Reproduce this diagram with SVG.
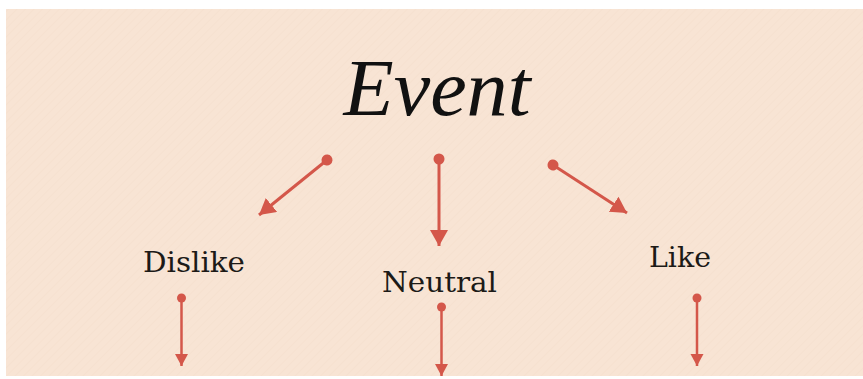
<svg xmlns="http://www.w3.org/2000/svg" width="863" height="379" viewBox="0 0 863 379">
  <style>
    .conn { stroke: #d4574a; fill: none; }
    .big { stroke-width: 3; }
    .small { stroke-width: 2.5; }
    .lbl { font-family: "DejaVu Serif", "Liberation Serif", serif; fill: #1c1a17; }
    .title { font-family: "Liberation Serif", "DejaVu Serif", serif; font-style: italic; fill: #111; }
  </style>
  <defs>
    <marker id="headBig" markerUnits="userSpaceOnUse" markerWidth="20" markerHeight="20" refX="16" refY="9" orient="auto">
      <path d="M0,0 L16,9 L0,18 z" fill="#d4574a"/>
    </marker>
    <marker id="headSmall" markerUnits="userSpaceOnUse" markerWidth="16" markerHeight="16" refX="12" refY="6.5" orient="auto">
      <path d="M0,0 L12,6.5 L0,13 z" fill="#d4574a"/>
    </marker>
    <marker id="dotBig" markerUnits="userSpaceOnUse" markerWidth="14" markerHeight="14" refX="7" refY="7" orient="auto">
      <circle cx="7" cy="7" r="5.5" fill="#d4574a"/>
    </marker>
    <marker id="dotSmall" markerUnits="userSpaceOnUse" markerWidth="12" markerHeight="12" refX="6" refY="6" orient="auto">
      <circle cx="6" cy="6" r="4.5" fill="#d4574a"/>
    </marker>
    <pattern id="tex" width="6" height="6" patternUnits="userSpaceOnUse" patternTransform="rotate(45)">
      <rect width="6" height="6" fill="#f8e4d4"/>
      <line x1="0" y1="0" x2="0" y2="6" stroke="#f5dfcd" stroke-width="1"/>
    </pattern>
  </defs>
  <rect x="0" y="0" width="863" height="379" fill="#ffffff"/>
  <rect x="6" y="9" width="857" height="367" fill="url(#tex)"/>

  <g id="event">
    <text class="title" x="437" y="115" font-size="80" text-anchor="middle" textLength="187" lengthAdjust="spacingAndGlyphs">Event</text>
  </g>
  <g id="dislike">
    <text class="lbl" x="194" y="272" font-size="28" text-anchor="middle" textLength="102" lengthAdjust="spacingAndGlyphs">Dislike</text>
  </g>
  <g id="neutral">
    <text class="lbl" x="439.5" y="292" font-size="28" text-anchor="middle" textLength="115" lengthAdjust="spacingAndGlyphs">Neutral</text>
  </g>
  <g id="like">
    <text class="lbl" x="680" y="267" font-size="28" text-anchor="middle" textLength="62" lengthAdjust="spacingAndGlyphs">Like</text>
  </g>

  <g id="connectors">
    <line class="conn big" x1="327" y1="160" x2="259" y2="215" marker-start="url(#dotBig)" marker-end="url(#headBig)"/>
    <line class="conn big" x1="439" y1="159" x2="439" y2="246" marker-start="url(#dotBig)" marker-end="url(#headBig)"/>
    <line class="conn big" x1="553" y1="165" x2="627" y2="213" marker-start="url(#dotBig)" marker-end="url(#headBig)"/>
    <line class="conn small" x1="181.5" y1="298" x2="181.5" y2="366" marker-start="url(#dotSmall)" marker-end="url(#headSmall)"/>
    <line class="conn small" x1="441.5" y1="307" x2="441.5" y2="376" marker-start="url(#dotSmall)" marker-end="url(#headSmall)"/>
    <line class="conn small" x1="697" y1="298" x2="697" y2="366" marker-start="url(#dotSmall)" marker-end="url(#headSmall)"/>
  </g>
</svg>
